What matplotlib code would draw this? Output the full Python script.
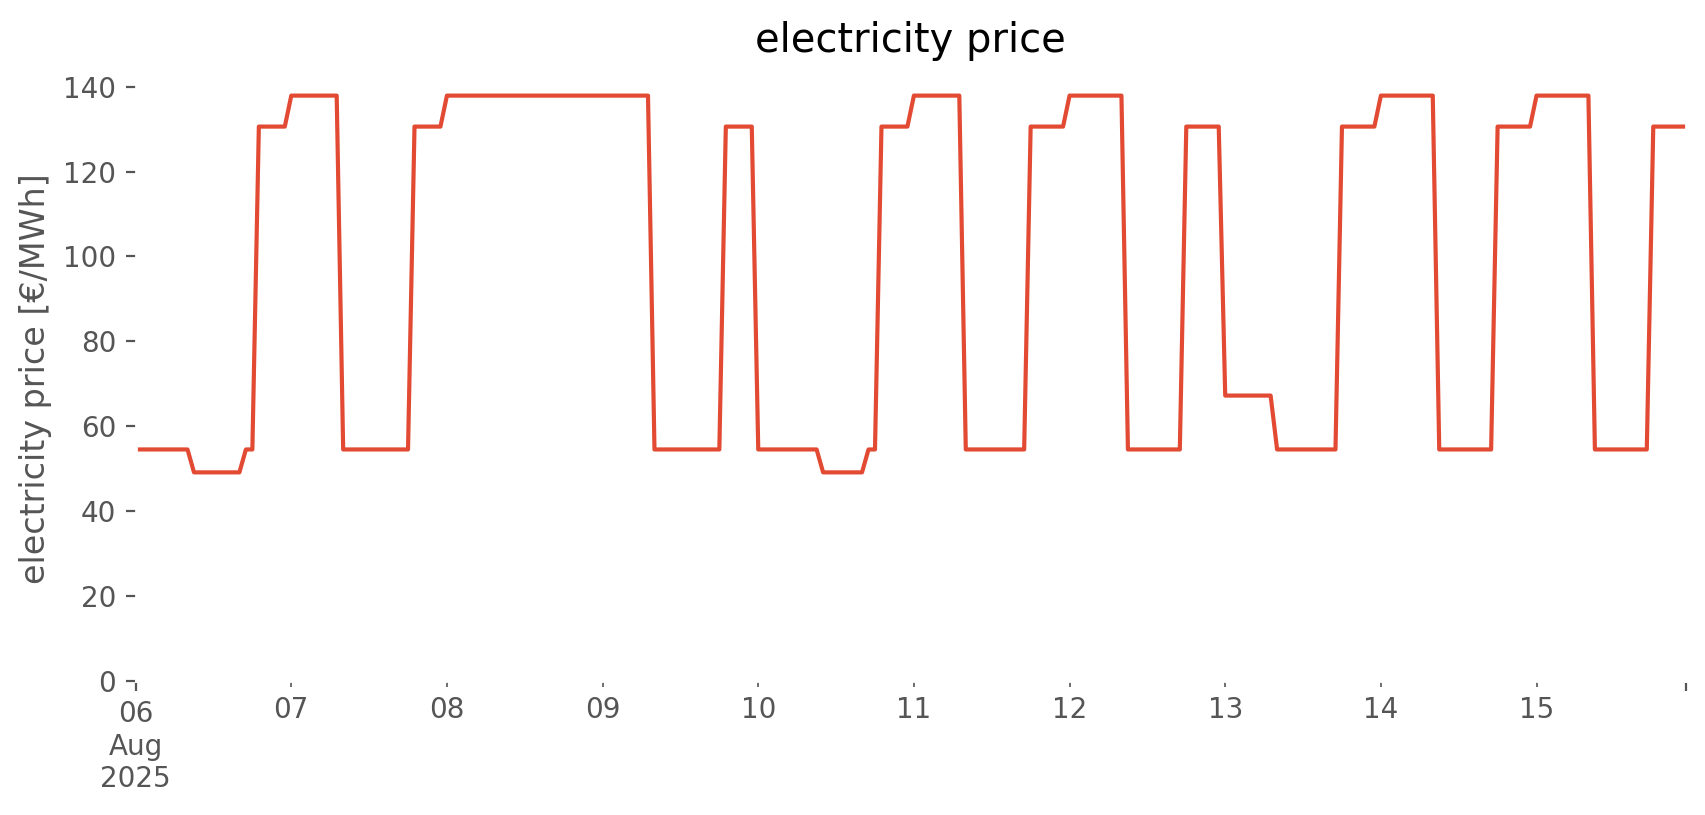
import matplotlib

matplotlib.use("Agg")
import matplotlib.pyplot as plt
import pandas as pd

# hourly electricity price [EUR/MWh], one row per day (00:00 .. 23:00)
START = "2025-08-06 00:00"
BASE = 54.5
LOW = 49.1
MID = 67.2
PEAK = 130.6
TOP = 137.9

day_06 = [BASE] * 9 + [LOW] * 8 + [BASE] * 2 + [PEAK] * 5
day_07 = [TOP] * 8 + [BASE] * 11 + [PEAK] * 5
day_08 = [TOP] * 24
day_09 = [TOP] * 8 + [BASE] * 11 + [PEAK] * 5
day_10 = [BASE] * 10 + [LOW] * 7 + [BASE] * 2 + [PEAK] * 5
day_11 = [TOP] * 8 + [BASE] * 10 + [PEAK] * 6
day_12 = [TOP] * 9 + [BASE] * 9 + [PEAK] * 6
day_13 = [MID] * 8 + [BASE] * 10 + [PEAK] * 6
day_14 = [TOP] * 9 + [BASE] * 9 + [PEAK] * 6
day_15 = [TOP] * 9 + [BASE] * 9 + [PEAK] * 6

prices = (day_06 + day_07 + day_08 + day_09 + day_10
          + day_11 + day_12 + day_13 + day_14 + day_15)
index = pd.date_range(START, periods=len(prices), freq="h")
series = pd.Series(prices, index=index)

plt.style.use("ggplot")
fig = plt.figure(figsize=(8.53, 4.075), dpi=200)
ax = fig.add_axes([0.0795, 0.1648, 0.9086, 0.741])
series.plot(ax=ax)

ax.set_facecolor("white")
ax.grid(False)
ax.set_ylim(bottom=0)
ax.set_title("electricity price", pad=9)
ax.set_ylabel("electricity price [€/MWh]")
ax.set_xlabel("")

fig.savefig("out.png", facecolor="white")
